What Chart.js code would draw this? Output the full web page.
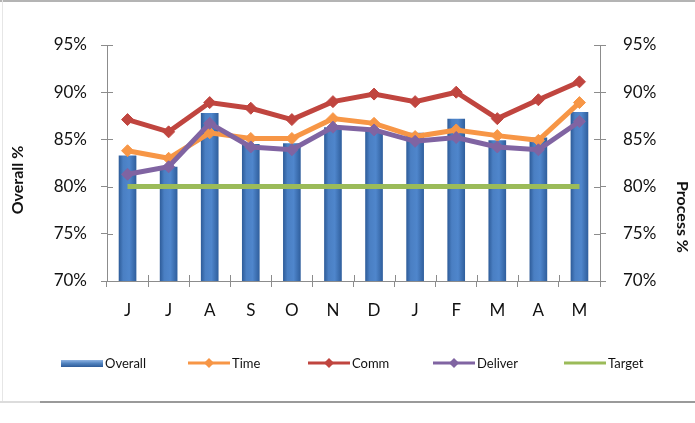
<!DOCTYPE html>
<html>
<head>
<meta charset="utf-8">
<title>Overall vs Process</title>
<script src="https://cdn.jsdelivr.net/npm/chart.js@4.4.1/dist/chart.umd.min.js"></script>
<style>
  html, body { margin: 0; padding: 0; background: #fff; }
  #wrap { position: relative; width: 695px; height: 423px; overflow: hidden; }
  #frameTop { position: absolute; left: 0; top: 0; width: 695px; height: 2px; background: #b4b4b4; }
  #frameLeft { position: absolute; left: 2px; top: 0; width: 1px; height: 402px; background: #e6e6e6; }
  #frameBottom { position: absolute; left: 0; top: 401px; width: 695px; height: 2px;
    background: linear-gradient(to right, #dcdcdc 0, #dcdcdc 40px, #9a9a9a 40px); }
  canvas { position: absolute; left: 0; top: 0; }
</style>
</head>
<body>
<div id="wrap">
  <canvas id="chart" width="695" height="423"></canvas>
  <div id="frameTop"></div>
  <div id="frameLeft"></div>
  <div id="frameBottom"></div>
</div>
<script>
// data
const months = ['J', 'J', 'A', 'S', 'O', 'N', 'D', 'J', 'F', 'M', 'A', 'M'];
const overall = [83.3, 82.1, 87.8, 84.5, 84.6, 86.3, 86.0, 85.7, 87.2, 84.9, 85.2, 87.9];
const time    = [83.8, 83.0, 85.7, 85.1, 85.1, 87.2, 86.7, 85.3, 86.0, 85.4, 84.9, 88.9];
const comm    = [87.1, 85.8, 88.9, 88.3, 87.1, 89.0, 89.8, 89.0, 90.0, 87.2, 89.2, 91.1];
const deliver = [81.3, 82.1, 86.7, 84.2, 83.9, 86.3, 86.0, 84.8, 85.2, 84.2, 83.9, 86.9];
const target  = [80, 80, 80, 80, 80, 80, 80, 80, 80, 80, 80, 80];
const yTicks  = [70, 75, 80, 85, 90, 95];

const AXIS = '#8c8c8c';
const BAR_PCT = 0.43;

// horizontal gradient per bar, placed with the x scale
function barFill(c) {
  const chart = c.chart;
  const xs = chart.scales.x;
  if (!xs || c.dataIndex === undefined) return '#4f81bd';
  const cx = xs.getPixelForValue(c.dataIndex);
  const w = (xs.right - xs.left) / months.length * BAR_PCT;
  if (!isFinite(cx) || !isFinite(w) || w <= 0) return '#4f81bd';
  const g = chart.ctx.createLinearGradient(cx - w / 2, 0, cx + w / 2, 0);
  g.addColorStop(0, '#2d5b98');
  g.addColorStop(0.25, '#4a7fc3');
  g.addColorStop(0.6, '#4f86cc');
  g.addColorStop(1, '#2f5e9c');
  return g;
}

function lineSet(label, data, color, order) {
  return {
    type: 'line', label, data, order,
    yAxisID: 'y1',
    borderColor: color,
    backgroundColor: color,
    borderWidth: 5,
    pointStyle: 'rectRot',
    pointRadius: 6,
    pointBorderWidth: 1,
    pointBorderColor: color,
    pointBackgroundColor: color,
    tension: 0
  };
}

const extras = {
  id: 'extras',
  beforeDatasetsDraw(chart) {
    // inner half of the tick marks, so they cross the axis lines
    const { ctx, chartArea: a, scales } = chart;
    ctx.save();
    ctx.strokeStyle = AXIS;
    ctx.lineWidth = 1;
    ctx.beginPath();
    yTicks.forEach(v => {
      const y = Math.round(scales.y.getPixelForValue(v)) + 0.5;
      ctx.moveTo(a.left, y); ctx.lineTo(a.left + 6, y);
      ctx.moveTo(a.right - 6, y); ctx.lineTo(a.right, y);
    });
    const step = (a.right - a.left) / months.length;
    for (let i = 0; i <= months.length; i++) {
      const x = Math.round(scales.x.getPixelForValue(0) - step / 2 + i * step) + 0.5;
      ctx.moveTo(x, a.bottom); ctx.lineTo(x, a.bottom - 6);
    }
    ctx.stroke();
    ctx.restore();
  },
  afterDraw(chart) {
    const { ctx } = chart;
    ctx.save();

    // axis titles
    ctx.fillStyle = '#111';
    ctx.font = 'bold 16px Lato';
    ctx.textAlign = 'center';
    ctx.textBaseline = 'middle';
    ctx.translate(18, 180);
    ctx.rotate(-Math.PI / 2);
    ctx.fillText('Overall %', 0, 0);
    ctx.setTransform(1, 0, 0, 1, 0, 0);
    ctx.translate(682, 217);
    ctx.rotate(Math.PI / 2);
    ctx.fillText('Process %', 0, 0);
    ctx.setTransform(1, 0, 0, 1, 0, 0);

    // legend
    const starts = [61, 188, 308, 433, 564];
    const ly = 363;
    ctx.font = '13px Lato';
    ctx.textAlign = 'left';
    chart.data.datasets.forEach((ds, i) => {
      const x = starts[i];
      if (ds.type === 'bar') {
        const g = ctx.createLinearGradient(0, ly - 3, 0, ly + 4);
        g.addColorStop(0, '#8fb4e3');
        g.addColorStop(0.5, '#4f81bd');
        g.addColorStop(1, '#2d5b98');
        ctx.fillStyle = g;
        ctx.fillRect(x, ly - 3, 42, 7);
      } else {
        ctx.strokeStyle = ds.borderColor;
        ctx.lineWidth = 3;
        ctx.beginPath();
        ctx.moveTo(x, ly); ctx.lineTo(x + 42, ly);
        ctx.stroke();
        if (ds.pointRadius > 0) {
          ctx.fillStyle = ds.borderColor;
          ctx.beginPath();
          ctx.moveTo(x + 21, ly - 5);
          ctx.lineTo(x + 26, ly);
          ctx.lineTo(x + 21, ly + 5);
          ctx.lineTo(x + 16, ly);
          ctx.closePath();
          ctx.fill();
        }
      }
      ctx.fillStyle = '#111';
      ctx.fillText(ds.label, x + 44, ly + 1);
    });
    ctx.restore();
  }
};

const targetSet = lineSet('Target', target, '#9bbb59', 4);
targetSet.pointRadius = 0;
targetSet.borderWidth = 5;

new Chart(document.getElementById('chart'), {
  data: {
    labels: months,
    datasets: [
      {
        type: 'bar', label: 'Overall', data: overall, order: 5,
        yAxisID: 'y',
        backgroundColor: barFill,
        borderColor: '#3b6aa6',
        borderWidth: 0,
        categoryPercentage: 1,
        barPercentage: BAR_PCT
      },
      lineSet('Time', time, '#f79646', 2),
      lineSet('Comm', comm, '#c0453f', 3),
      lineSet('Deliver', deliver, '#8064a2', 1),
      targetSet
    ]
  },
  options: {
    responsive: false,
    animation: false,
    events: [],
    layout: { padding: { left: 0, right: 0, top: 45, bottom: 92 } },
    plugins: { legend: { display: false }, tooltip: { enabled: false } },
    scales: {
      x: {
        grid: { drawOnChartArea: false, color: AXIS, tickLength: 6, offset: true },
        border: { color: AXIS },
        ticks: { color: '#111', font: { family: 'Lato', size: 17 }, padding: 13 },
        afterFit: s => { s.height = 50; }
      },
      y: {
        position: 'left',
        min: yTicks[0], max: yTicks[yTicks.length - 1],
        afterBuildTicks: s => { s.ticks = yTicks.map(v => ({ value: v })); },
        grid: { drawOnChartArea: false, color: AXIS, tickLength: 6 },
        border: { color: AXIS },
        ticks: { color: '#111', font: { family: 'Lato', size: 17 }, padding: 14, callback: v => v + '%' },
        afterFit: s => { s.width = 107; }
      },
      y1: {
        position: 'right',
        min: yTicks[0], max: yTicks[yTicks.length - 1],
        afterBuildTicks: s => { s.ticks = yTicks.map(v => ({ value: v })); },
        grid: { drawOnChartArea: false, color: AXIS, tickLength: 6 },
        border: { color: AXIS },
        ticks: { color: '#111', font: { family: 'Lato', size: 17 }, padding: 17, callback: v => v + '%' },
        afterFit: s => { s.width = 95; }
      }
    }
  },
  plugins: [extras]
});
</script>
</body>
</html>
